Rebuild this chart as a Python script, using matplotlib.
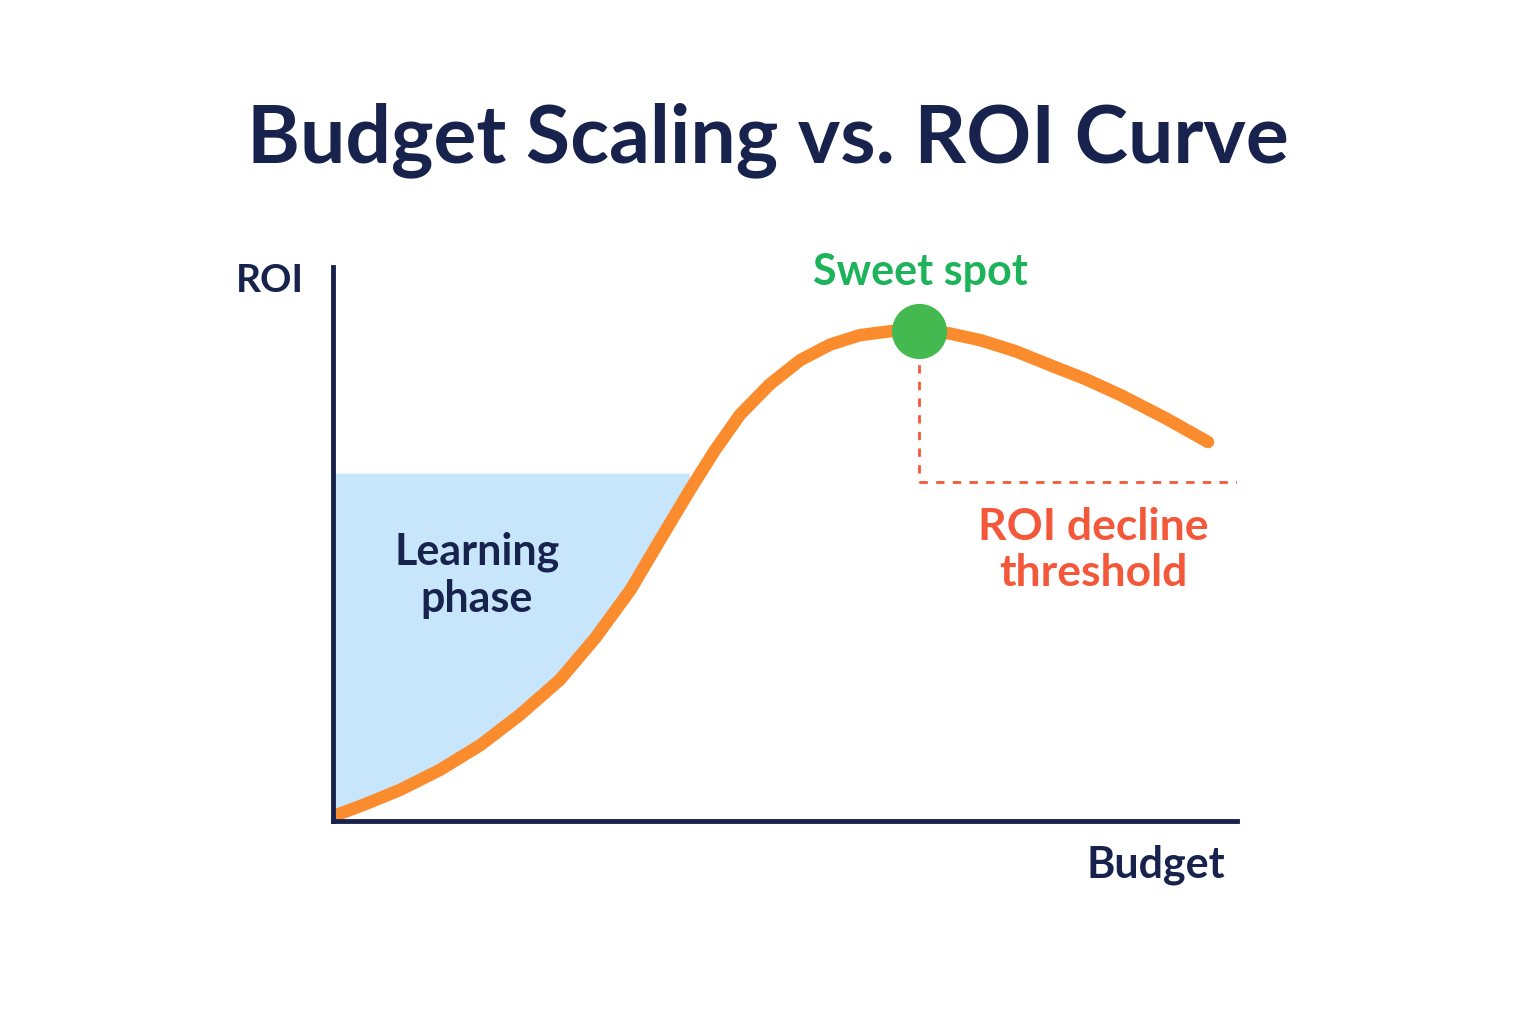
import numpy as np
import matplotlib.pyplot as plt

plt.rcParams['font.family'] = ['Lato', 'DejaVu Sans']

# curve (budget 0..100, roi 0..100)
budget = [0.4, 3.5, 7.4, 11.8, 16.3, 20.7, 25.1, 29.0, 32.9, 36.2, 39.5, 42.2,
          45.0, 48.3, 51.7, 55.0, 58.3, 61.6, 64.9, 68.2, 71.6, 75.5, 79.3, 83.2,
          87.1, 92.0, 96.8]
roi = [1.1, 3.0, 5.6, 9.2, 13.7, 19.2, 25.5, 33.0, 41.7, 50.8, 59.8, 66.8,
       73.3, 78.8, 83.2, 86.0, 87.7, 88.4, 88.6, 88.0, 86.8, 84.8, 82.3, 79.8,
       76.9, 72.8, 68.4]
learning_top = 62.8
sweet_x, sweet_y = 64.8, 88.4
threshold = 61.2

navy = '#17224d'
orange = '#fb8c2d'
green = '#1db35a'
red = '#f4583a'

fig = plt.figure(figsize=(15.36, 10.24), dpi=100)
W, H = 1536, 1024
ax = fig.add_axes([333 / W, 1 - 821 / H, 904 / W, 554 / H])
ax.set_xlim(0, 100)
ax.set_ylim(0, 100)
ax.axis('off')

x = np.array(budget)
y = np.array(roi)
mask = x <= 40
ax.fill_between(np.concatenate([[0], x[mask], [39.4]]),
                np.concatenate([[1.0], y[mask], [learning_top]]),
                learning_top, color='#c8e6fb', lw=0, zorder=1)

ax.plot(x, y, color=orange, lw=9, solid_capstyle='round',
        solid_joinstyle='round', zorder=3)

ax.plot([sweet_x, sweet_x], [sweet_y - 3, threshold], ls=(0, (3, 3)),
        color=red, lw=2, zorder=2)
ax.plot([sweet_x, 100], [threshold, threshold], ls=(0, (3, 3)),
        color=red, lw=2, zorder=2)
ax.scatter([sweet_x], [sweet_y], s=1500, color='#43b94f', zorder=4)

# axes lines
ax.plot([0, 0], [0, 100], color=navy, lw=3.5, clip_on=False, zorder=5)
ax.plot([0, 100], [0, 0], color=navy, lw=3.5, clip_on=False, zorder=5)

fig.text(768 / W, 1 - 140 / H, 'Budget Scaling vs. ROI Curve', ha='center',
         va='center', fontsize=58, fontweight='bold', color=navy)
fig.text(270 / W, 1 - 280 / H, 'ROI', ha='center', va='center',
         fontsize=28, fontweight='bold', color=navy)
fig.text(1156 / W, 1 - 865 / H, 'Budget', ha='center', va='center',
         fontsize=31, fontweight='bold', color=navy)
fig.text(920 / W, 1 - 272 / H, 'Sweet spot', ha='center', va='center',
         fontsize=31, fontweight='bold', color=green)
fig.text(477 / W, 1 - 575 / H, 'Learning\nphase', ha='center', va='center',
         fontsize=31, fontweight='bold', color=navy, linespacing=1.2)
fig.text(1093 / W, 1 - 550 / H, 'ROI decline\nthreshold', ha='center',
         va='center', fontsize=32, fontweight='bold', color=red,
         linespacing=1.2)

fig.savefig('out.png', dpi=100, facecolor='white')
